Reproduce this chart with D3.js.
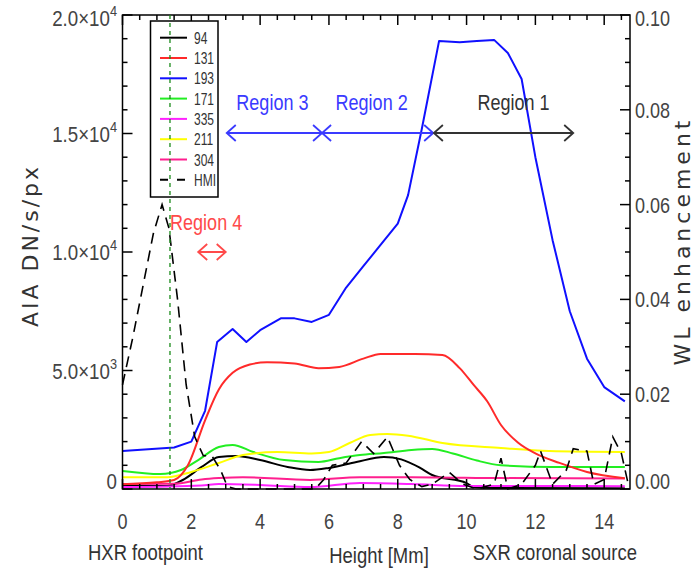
<!DOCTYPE html>
<html><head><meta charset="utf-8">
<script src="https://cdn.jsdelivr.net/npm/d3@7"></script>
<style>
html,body{margin:0;padding:0;background:#fff;}
svg{display:block;}
.nar{font-family:"Liberation Sans",Arial,sans-serif;}
.wide{font-family:"DejaVu Sans",sans-serif;}
</style></head><body>
<svg id="c" width="697" height="577"></svg>
<script>
// ---------- data ----------
const x193 = [0,1.5,2.0,2.4,2.75,3.2,3.6,4.0,4.6,5.0,5.5,6.0,6.5,7.0,7.5,8.0,8.3,8.7,9.2,9.8,10.3,10.8,11.2,11.6,12.0,12.5,13.0,13.5,14.0,14.6];
const v193 = [1600,1750,2000,3300,6200,6750,6200,6700,7200,7200,7050,7350,8500,9400,10300,11200,12400,15200,18900,18850,18900,18950,18400,17300,14000,10500,7500,5500,4300,3700];
const x131 = [0,1.0,1.5,1.9,2.4,2.8,3.2,3.7,4.2,5.0,5.7,6.3,7.0,7.5,8.5,9.3,9.8,10.2,10.6,11.0,11.5,12.0,12.7,13.5,14.6];
const v131 = [200,280,380,1000,2900,4200,4900,5250,5350,5300,5100,5150,5500,5700,5700,5650,5100,4400,3700,2700,1950,1500,1100,720,450];
const x171 = [0,1.1,1.7,2.2,2.8,3.2,3.8,4.7,5.7,6.3,6.9,7.6,8.4,9.0,9.6,10.3,11.0,12.5,14.6];
const v171 = [760,630,800,1220,1770,1860,1560,1220,1140,1300,1430,1520,1650,1690,1500,1200,1000,930,930];
const x211 = [0,1.3,2.0,2.8,3.5,4.5,5.5,6.0,6.6,7.2,7.7,8.3,9.3,11.0,12.4,14.6];
const v211 = [500,500,720,1100,1430,1560,1500,1560,1940,2280,2320,2250,1940,1730,1600,1560];
const x94  = [0,1.3,1.75,2.3,2.8,3.3,4.0,4.8,5.45,6.0,6.8,7.6,8.1,8.65,9.0,10.0,10.2,10.8,14.6];
const v94  = [170,130,380,930,1350,1390,1220,930,800,890,1140,1350,1250,890,590,250,80,40,30];
const x304 = [0,1.5,2.3,2.8,3.5,5.45,6.9,8.4,11.0,14.6];
const v304 = [210,220,400,460,500,380,500,500,460,440];
const x335 = [0,2.3,2.8,4.0,5.45,6.9,8.4,10.0,14.6];
const v335 = [80,150,210,170,80,250,210,130,120];
const xHMI = [0,0.3,0.6,0.9,1.15,1.35,1.6,1.85,2.1,2.35,2.6,2.85,3.05,3.3,4.5,5.6,5.85,6.1,6.5,6.95,7.3,7.7,8.05,8.35,8.7,9.0,9.5,9.9,10.3,10.8,11.0,11.2,11.6,12.0,12.15,12.5,12.9,13.1,13.5,13.7,14.0,14.25,14.5,14.7];
const wHMI = [0.022,0.032,0.043,0.054,0.060,0.055,0.040,0.022,0.011,0.007,0.007,0.004,0.0005,0,0,0,0.002,0.005,0.0055,0.010,0.0075,0.011,0.005,0.002,0.0005,0.001,0.0035,0.001,0,0.001,0.0065,0,0.001,0.005,0.008,0.001,0.004,0.0085,0.008,0.001,0.002,0.011,0.0075,0.001];

const legendLabels = ["94","131","193","171","335","211","304","HMI"];
const legendColors = ["#000000","#ff2a2a","#1010ff","#22ee22","#ff22ff","#ffff00","#ff1f8f","#000000"];
const xTicks = [0,2,4,6,8,10,12,14];
const yLeftTicks = [0,5000,10000,15000,20000];
const yLeftTickText = [["0",""],["5.0\u00d710","3"],["1.0\u00d710","4"],["1.5\u00d710","4"],["2.0\u00d710","4"]];
const yRightTicks = [0,0.02,0.04,0.06,0.08,0.10];
const yRightTickText = ["0.00","0.02","0.04","0.06","0.08","0.10"];
const regionNames = ["Region 3","Region 2","Region 1","Region 4"];
const regionFrom = [3.03,5.8,9.05,2.2];
const regionTo = [5.8,9.03,13.1,3.0];
const regionColors = ["#3a3aff","#3a3aff","#333333","#ff4a4a"];
const footX = 1.38;

// ---------- scales ----------
const L=122.5,R=630,T=15,B=489;
const x = d3.scaleLinear().domain([0,14.75]).range([L,R]);
const yL = d3.scaleLinear().domain([0,20000]).range([B,T]);
const yR = d3.scaleLinear().domain([0,0.1]).range([B,T]);

const svg = d3.select("#c");
const g = svg.append("g");

// narrow text helper (condensed look)
function ntext(parent, px, py, str, anchor, size, fill, sx){
  const gg = parent.append("g").attr("transform",`translate(${px},${py}) scale(${sx||0.82},1)`);
  return gg.append("text").attr("class","nar").attr("text-anchor",anchor||"start")
    .attr("fill",fill||"#444").style("font-size",size+"px").text(str);
}

// curves
const series = [
  {xs:x94,vs:v94,c:legendColors[0]},
  {xs:x335,vs:v335,c:legendColors[4]},
  {xs:x304,vs:v304,c:legendColors[6]},
  {xs:x171,vs:v171,c:legendColors[3]},
  {xs:x211,vs:v211,c:legendColors[5]},
  {xs:x131,vs:v131,c:legendColors[1]},
  {xs:x193,vs:v193,c:legendColors[2],lin:true}
];
series.forEach(s=>{
  const line = d3.line().x(d=>x(d[0])).y(d=>yL(d[1])).curve(s.lin?d3.curveLinear:d3.curveMonotoneX);
  g.append("path").attr("d",line(s.xs.map((v,i)=>[v,s.vs[i]])))
   .attr("fill","none").attr("stroke",s.c).attr("stroke-width",2).attr("stroke-linejoin","round");
});
// HMI
const hl = d3.line().x(d=>x(d[0])).y(d=>yR(d[1]));
g.append("path").attr("d",hl(xHMI.map((v,i)=>[v,wHMI[i]])))
 .attr("fill","none").attr("stroke","#000").attr("stroke-width",1.6).attr("stroke-dasharray","11,7");

// axes box + ticks
const frame = svg.append("g").attr("stroke","#000").attr("stroke-width",1.5);
frame.append("rect").attr("x",L).attr("y",T).attr("width",R-L).attr("height",B-T).attr("fill","none");
d3.range(0,14.76,0.5).forEach(v=>{
  const major = Math.abs(v/2-Math.round(v/2))<1e-6;
  const len = major?10:5;
  frame.append("line").attr("x1",x(v)).attr("x2",x(v)).attr("y1",B).attr("y2",B-len);
  frame.append("line").attr("x1",x(v)).attr("x2",x(v)).attr("y1",T).attr("y2",T+len);
});
d3.range(0,20001,1000).forEach(v=>{
  const len = v%5000===0?10:5;
  frame.append("line").attr("x1",L).attr("x2",L+len).attr("y1",yL(v)).attr("y2",yL(v));
});
d3.range(0,0.1001,0.005).forEach(v=>{
  const len = Math.abs(v/0.02-Math.round(v/0.02))<1e-6?10:5;
  frame.append("line").attr("x1",R).attr("x2",R-len).attr("y1",yR(v)).attr("y2",yR(v));
});

// tick labels
const lab = svg.append("g");
xTicks.forEach(v=>{ ntext(lab, x(v), 529, String(v), "middle", 22); });
yLeftTicks.forEach((v,i)=>{
  const t = ntext(lab, 117, yL(v)+8 + (v===0?-8:(v===20000?3:0)), yLeftTickText[i][0], "end", 22, "#444", 0.85);
  if(yLeftTickText[i][1]){
    t.text(null);
    t.append("tspan").text(yLeftTickText[i][0]);
    t.append("tspan").attr("dy",-10).style("font-size","15px").text(yLeftTickText[i][1]);
  }
});
yRightTicks.forEach((v,i)=>{
  ntext(lab, 635, yR(v)+8 + (v===0?-8:(v>0.099?3:0)), yRightTickText[i], "start", 22);
});
// axis titles
const tt = svg.append("g").attr("fill","#333");
tt.append("text").attr("class","wide").attr("transform","translate(38,247) rotate(-90)")
  .attr("text-anchor","middle").style("font-size","22px")
  .attr("textLength",160).attr("lengthAdjust","spacing").text("AIA  DN/s/px");
tt.append("text").attr("class","wide").attr("transform","translate(690,243) rotate(-90)")
  .attr("text-anchor","middle").style("font-size","22px")
  .attr("textLength",245).attr("lengthAdjust","spacing").text("WL  enhancement");
ntext(tt, 88, 560, "HXR footpoint", "start", 22, "#333", 0.84);
ntext(tt, 379, 563, "Height [Mm]", "middle", 22, "#333", 0.84);
ntext(tt, 637, 560, "SXR coronal source", "end", 22, "#333", 0.84);

// region arrows
const arrowY = [133,133,133,252];
const textY = [110,110,110,230];
const ra = svg.append("g");
regionNames.forEach((n,i)=>{
  const x1=x(regionFrom[i]), x2=x(regionTo[i]), y=arrowY[i], c=regionColors[i];
  const h=9, w=8;
  ra.append("path").attr("d",`M${x1},${y}H${x2}M${x1+h},${y-w}L${x1},${y}L${x1+h},${y+w}M${x2-h},${y-w}L${x2},${y}L${x2-h},${y+w}`)
    .attr("fill","none").attr("stroke",c).attr("stroke-width",1.8);
  const tx = i===3 ? x(2.43) : (x1+x2)/2 + (i===2?10:(i===0?-2:-6));
  ntext(ra, tx, textY[i], n, "middle", 22, c, 0.82);
});

// legend
const lg = svg.append("g");
lg.append("rect").attr("x",150.5).attr("y",21).attr("width",67.5).attr("height",176).attr("fill","#fff").attr("stroke","#000").attr("stroke-width",1.5);
legendLabels.forEach((n,i)=>{
  const y = 37.7 + i*20.3;
  lg.append("line").attr("x1",160).attr("x2",187).attr("y1",y).attr("y2",y)
    .attr("stroke",legendColors[i]).attr("stroke-width",2).attr("stroke-dasharray",n==="HMI"?"8,9":null);
  ntext(lg, 194, y+6, n, "start", 16, "#333", 0.75);
});

// footpoint marker line
svg.append("line").attr("x1",x(footX)).attr("x2",x(footX)).attr("y1",T).attr("y2",B)
  .attr("stroke","#1a8a1a").attr("stroke-width",1.3).attr("stroke-dasharray","4,4");
</script></body></html>
